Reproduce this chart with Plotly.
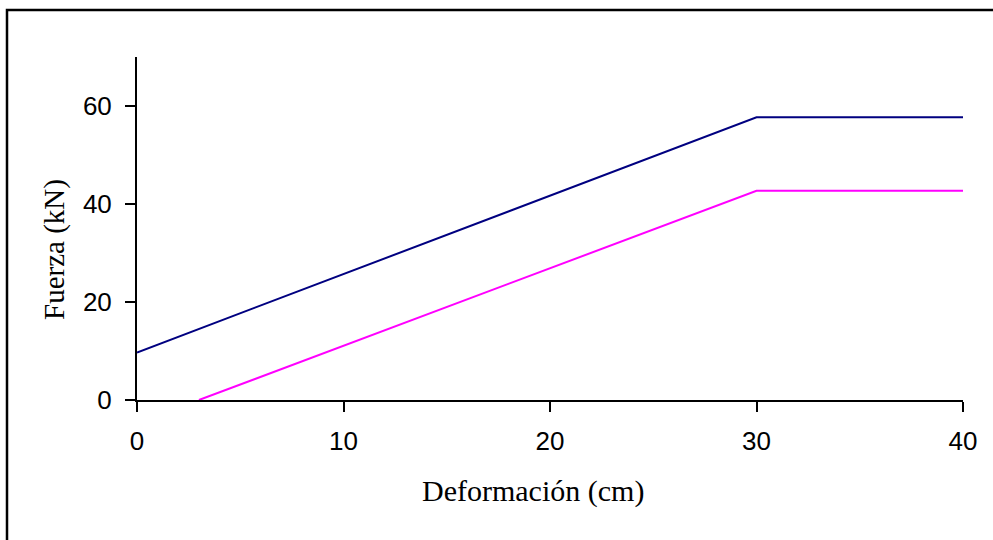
import plotly.graph_objects as go

deformacion_1 = [0, 30, 40]
fuerza_1 = [9.7, 57.7, 57.7]
deformacion_2 = [3, 30, 40]
fuerza_2 = [0, 42.7, 42.7]
x_ticks = [0, 10, 20, 30, 40]
y_ticks = [0, 20, 40, 60]

fig = go.Figure()
fig.add_trace(go.Scatter(x=deformacion_1, y=fuerza_1, mode="lines",
                         line=dict(color="#000080", width=2), showlegend=False))
fig.add_trace(go.Scatter(x=deformacion_2, y=fuerza_2, mode="lines",
                         line=dict(color="#FF00FF", width=2), showlegend=False))

W, H = 993, 540
L, R, T, B = 137, 30, 57, 140
pw, ph = W - L - R, H - T - B

fig.update_layout(
    width=W, height=H,
    margin=dict(l=L, r=R, t=T, b=B),
    paper_bgcolor="white", plot_bgcolor="white",
    xaxis=dict(range=[0, 40], tickvals=x_ticks, showgrid=False, zeroline=False,
               showline=True, linecolor="black", linewidth=2,
               ticks="outside", ticklen=10, tickwidth=2, tickcolor="black",
               tickfont=dict(family="Liberation Sans, Arial", size=26, color="black"),
               ticklabelstandoff=7),
    yaxis=dict(range=[0, 70], tickvals=y_ticks, showgrid=False, zeroline=False,
               showline=True, linecolor="black", linewidth=2,
               ticks="outside", ticklen=10, tickwidth=2, tickcolor="black",
               tickfont=dict(family="Liberation Sans, Arial", size=26, color="black"),
               ticklabelstandoff=8),
    annotations=[
        dict(text="Deformación (cm)", xref="paper", yref="paper",
             x=(533 - L) / pw, y=-(491 - (T + ph)) / ph, showarrow=False,
             xanchor="center", yanchor="middle",
             font=dict(family="Liberation Serif, Times New Roman", size=30, color="black")),
        dict(text="Fuerza (kN)", xref="paper", yref="paper",
             x=(54 - L) / pw, y=1 - (250 - T) / ph, showarrow=False, textangle=-90,
             xanchor="center", yanchor="middle",
             font=dict(family="Liberation Serif, Times New Roman", size=29, color="black")),
    ],
    shapes=[
        dict(type="rect", xref="paper", yref="paper",
             x0=(7 - L) / pw, x1=(W + 20 - L) / pw,
             y0=1 - (H + 20 - T) / ph, y1=1 - (10 - T) / ph,
             line=dict(color="black", width=2.5), fillcolor="rgba(0,0,0,0)"),
    ],
)

fig.write_html("out.html", config={"displayModeBar": False},
               post_script="document.body.style.margin='0';")
